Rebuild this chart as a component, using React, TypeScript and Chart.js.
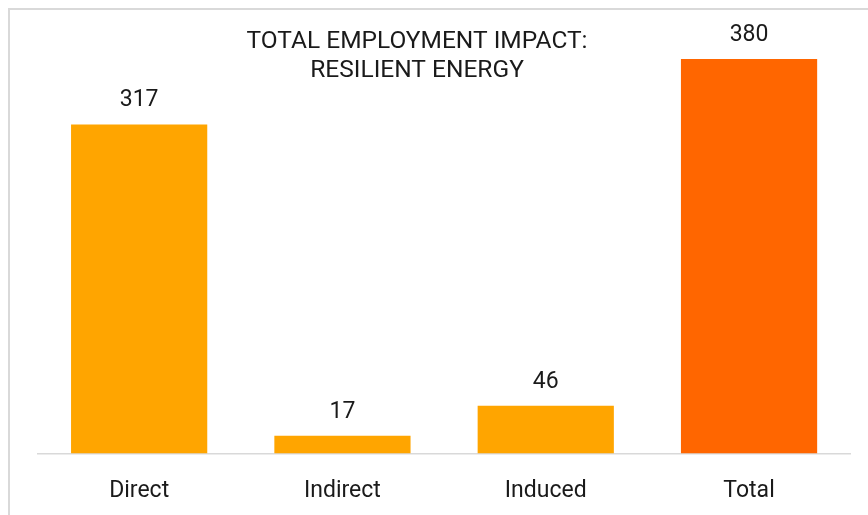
import React, { useEffect, useRef } from "react";
import { Chart, registerables } from "chart.js";

Chart.register(...registerables);

const categories = ["Direct", "Indirect", "Induced", "Total"];
const values = [317, 17, 46, 380];
const barColors = ["#FFA500", "#FFA500", "#FFA500", "#FF6600"];
const titleLines = ["TOTAL EMPLOYMENT IMPACT:", "RESILIENT ENERGY"];

const FONT = "Roboto, 'Noto Sans', sans-serif";
const TEXT = "#1a1a1a";

const valueLabels = {
  id: "valueLabels",
  afterDatasetsDraw(chart: any) {
    const ctx = chart.ctx;
    const meta = chart.getDatasetMeta(0);
    ctx.save();
    ctx.font = `23px ${FONT}`;
    ctx.fillStyle = TEXT;
    ctx.textAlign = "center";
    ctx.textBaseline = "alphabetic";
    meta.data.forEach((bar: any, i: number) => {
      ctx.fillText(String(values[i]), bar.x, bar.y - 18);
    });
    ctx.restore();
  },
};

const titlePlugin = {
  id: "titleLines",
  afterDraw(chart: any) {
    const ctx = chart.ctx;
    ctx.save();
    ctx.font = `24.5px ${FONT}`;
    ctx.fillStyle = TEXT;
    ctx.textAlign = "center";
    ctx.textBaseline = "alphabetic";
    const x = chart.width * 0.4744;
    ctx.fillText(titleLines[0], x, 38.3);
    ctx.fillText(titleLines[1], x, 66.7);
    ctx.restore();
  },
};

export default function App() {
  const ref = useRef<HTMLCanvasElement | null>(null);
  useEffect(() => {
    if (!ref.current) return;
    const chart = new Chart(ref.current, {
      type: "bar",
      data: {
        labels: categories,
        datasets: [
          {
            data: values,
            backgroundColor: barColors,
            borderWidth: 0,
            barPercentage: 0.67,
            categoryPercentage: 1,
          },
        ],
      },
      options: {
        animation: false,
        responsive: false,
        devicePixelRatio: 1,
        layout: { padding: { left: 27.5, right: 17.3, top: 28.3, bottom: 0 } },
        plugins: {
          legend: { display: false },
          title: { display: false },
          tooltip: { enabled: false },
        },
        scales: {
          x: {
            grid: { display: false },
            border: { display: true, color: "#d9d9d9", width: 1.5 },
            ticks: {
              color: TEXT,
              font: { family: FONT, size: 23 },
              padding: 16,
            },
            afterFit: (s: any) => {
              s.height = 61.5;
            },
          },
          y: {
            display: false,
            min: 0,
            max: 400,
          },
        },
      },
      plugins: [valueLabels, titlePlugin],
    });
    return () => chart.destroy();
  }, []);
  return (
    <div
      style={{
        position: "fixed",
        left: 8,
        top: 8,
        width: 860,
        height: 507,
        borderLeft: "2px solid #d9d9d9",
        borderTop: "2px solid #d9d9d9",
        boxSizing: "border-box",
        background: "#fff",
      }}
    >
      <canvas ref={ref} width={858} height={505} style={{ display: "block" }} />
    </div>
  );
}
